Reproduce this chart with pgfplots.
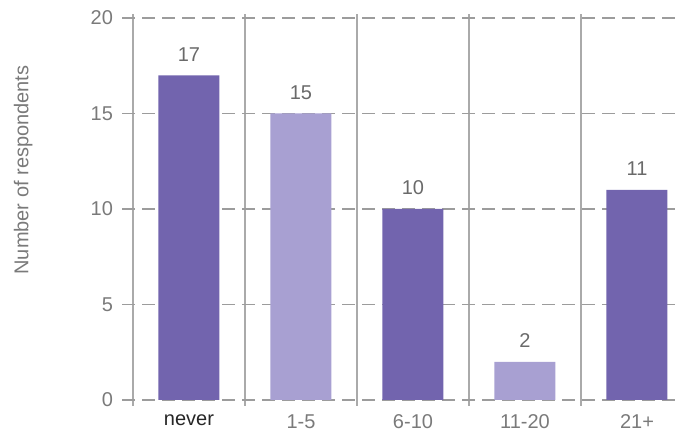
\documentclass[border=0pt]{standalone}
\usepackage{pgfplots}
\pgfplotsset{compat=1.18}
\usepackage{fontspec}
\setmainfont{Liberation Sans}

\definecolor{barDark}{HTML}{7264AE}
\definecolor{barLight}{HTML}{A8A0D2}
\definecolor{gridGray}{HTML}{9C9C9C}
\definecolor{sepGray}{HTML}{AAAAAA}
\definecolor{txtGray}{HTML}{6A6A6A}
\definecolor{lblGray}{HTML}{7A7A7A}

\begin{document}
\begin{tikzpicture}
\useasboundingbox (-94.5pt,-16pt) rectangle (246pt,200pt);
\begin{axis}[
  at={(0,0)}, anchor=origin,
  x=56pt, y=9.55pt,
  xmin=-0.598, xmax=4.39,
  ymin=-0.3, ymax=20.2,
  axis line style={draw=none},
  major tick length=0pt, minor tick length=0pt,
  ytick={0,5,10,15,20},
  ymajorgrids,
  grid style={draw=gridGray, line width=0.75pt, dash pattern=on 6.5pt off 3.5pt},
  xtick={0,1,2,3,4},
  xticklabels={\textcolor{black!85}{never},1-5,6-10,11-20,21+},
  minor xtick={-0.5,0.5,1.5,2.5,3.5},
  xminorgrids,
  minor grid style={draw=sepGray, line width=0.75pt, solid},
  tick label style={font=\fontsize{10}{12}\selectfont, text=lblGray},
  /pgf/number format/assume math mode=true,
  yticklabel style={xshift=-1pt},
  xticklabel style={yshift=-0.8pt},
  ylabel={Number of respondents},
  ylabel style={at={(axis description cs:-0.177,0.602)}, anchor=center, rotate=0,
    font=\fontsize{10}{12}\selectfont, text=lblGray},
  ybar, bar width=30.5pt,
  nodes near coords,
  every node near coord/.append style={font=\fontsize{10}{12}\selectfont, text=txtGray, yshift=3.5pt},
  clip=false,
]
\addplot[draw=none, fill=barDark, bar shift=0pt] coordinates {(0,17) (2,10) (4,11)};
\addplot[draw=none, fill=barLight, bar shift=0pt] coordinates {(1,15) (3,2)};
\end{axis}
\end{tikzpicture}
\end{document}
